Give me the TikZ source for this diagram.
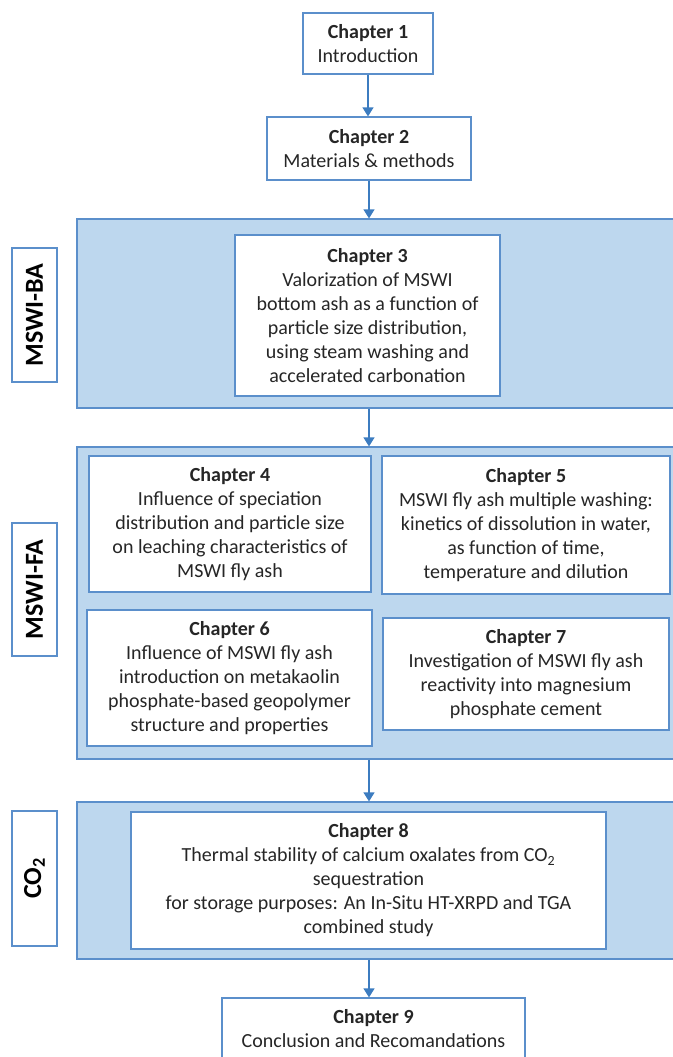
\documentclass[tikz,border=0pt]{standalone}
\usepackage{fontspec}
\setmainfont{Carlito}
\usepackage{xcolor}
\usepackage{tikz}
\usetikzlibrary{arrows.meta}

\definecolor{bandfill}{HTML}{BDD7EE}
\definecolor{edgeblue}{HTML}{5B8FCB}
\definecolor{arrowblue}{HTML}{3C7CC0}

\begin{document}
\begin{tikzpicture}[x=1pt, y=-1pt,
    every node/.style={font=\fontsize{20}{24}\selectfont, text=black!85},
    chapbox/.style={draw=edgeblue, line width=1.2pt, fill=white, align=center, inner sep=0pt},
    band/.style={draw=edgeblue, line width=1.2pt, fill=bandfill, inner sep=0pt},
    tag/.style={draw=edgeblue, line width=1.2pt, fill=white, rotate=90, inner sep=0pt,
      minimum height=45pt, font=\fontsize{26}{30}\selectfont\bfseries, text=black},
    flow/.style={draw=arrowblue, line width=1.2pt, -{Triangle[width=11pt,length=9pt]}}]
    \useasboundingbox (0,0) rectangle (672,1057);

    % Top chapters
    \node[chapbox, minimum width=130pt, minimum height=61pt] (ch1) at (368, 43.5)
    {\textbf{Chapter 1}\\Introduction};
    \node[chapbox, minimum width=204pt, minimum height=63pt] (ch2) at (369, 148.5)
    {\textbf{Chapter 2}\\Materials \& methods};

    % MSWI-BA band
    \node[band, minimum width=603pt, minimum height=189pt] (ba) at (378.5, 313.5) {};
    \node[tag, minimum width=134pt] (batag) at (34.5, 315) {MSWI-BA};
    \node[chapbox, minimum width=265pt, minimum height=161pt] (ch3) at (367.5, 315.5)
    {\textbf{Chapter 3}\\Valorization of MSWI\\bottom ash as a function of\\particle size distribution,\\using steam washing and\\accelerated carbonation};

    % MSWI-FA band
    \node[band, minimum width=603pt, minimum height=312pt] (fa) at (378.5, 603) {};
    \node[tag, minimum width=133pt] (fatag) at (34.5, 589.5) {MSWI-FA};
    \node[chapbox, minimum width=282pt, minimum height=136pt] (ch4) at (230, 524)
    {\textbf{Chapter 4}\\Influence of speciation\\distribution and particle size\\on leaching characteristics of\\MSWI fly ash};
    \node[chapbox, minimum width=288pt, minimum height=138pt] (ch5) at (526, 525)
    {\textbf{Chapter 5}\\MSWI fly ash multiple washing:\\kinetics of dissolution in water,\\as function of time,\\temperature and dilution};
    \node[chapbox, minimum width=285pt, minimum height=136pt] (ch6) at (229.5, 678)
    {\textbf{Chapter 6}\\Influence of MSWI fly ash\\introduction on metakaolin\\phosphate-based geopolymer\\structure and properties};
    \node[chapbox, minimum width=286pt, minimum height=112pt] (ch7) at (526, 674)
    {\textbf{Chapter 7}\\Investigation of MSWI fly ash\\reactivity into magnesium\\phosphate cement};

    % CO2 band
    \node[band, minimum width=603pt, minimum height=157pt] (co2) at (378.5, 880.5) {};
    \node[tag, minimum width=135pt] (co2tag) at (34.5, 878.5) {CO\textsubscript{2}};
    \node[chapbox, minimum width=475pt, minimum height=137pt] (ch8) at (368.5, 880.5)
    {\textbf{Chapter 8}\\Thermal stability of calcium oxalates from CO\textsubscript{2}\\sequestration\\for storage purposes: An In-Situ HT-XRPD and TGA\\combined study};

    % Closing chapter
    \node[chapbox, minimum width=303pt, minimum height=62pt] (ch9) at (373.5, 1029)
    {\textbf{Chapter 9}\\Conclusion and Recomandations};

    % Arrows
    \draw[flow] (ch1.south) -- (ch1.south |- ch2.north);
    \draw[flow] (ch2.south) -- (ch2.south |- ba.north);
    \draw[flow] (ba.south -| ch2) -- (fa.north -| ch2);
    \draw[flow] (fa.south -| ch2) -- (co2.north -| ch2);
    \draw[flow] (co2.south -| ch2) -- (ch9.north -| ch2);
\end{tikzpicture}
\end{document}
